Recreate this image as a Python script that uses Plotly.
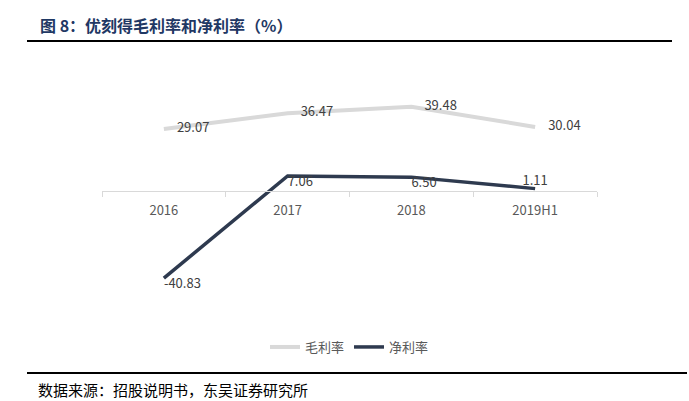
import plotly.graph_objects as go

categories = ["2016", "2017", "2018", "2019H1"]
gross_margin = [29.07, 36.47, 39.48, 30.04]
net_margin = [-40.83, 7.06, 6.50, 1.11]
gross_labels = ["29.07", "36.47", "39.48", "30.04"]
net_labels = ["-40.83", "7.06", "6.50", "1.11"]

W, H = 689, 401
L, R, T, B = 102, 597, 63, 319

def px(x):
    return (x - L) / (R - L)

def py(y):
    return (B - y) / (B - T)

FONT = "Noto Sans CJK SC"

fig = go.Figure()
fig.add_trace(go.Scatter(
    x=categories, y=gross_margin, name="毛利率", mode="lines+text",
    line=dict(color="#d9d9d9", width=4),
    text=gross_labels, texttemplate="\u2003%{text}", textposition="middle right",
    textfont=dict(family=FONT, size=13, color="#404040"),
    cliponaxis=False, hoverinfo="skip",
))
fig.add_trace(go.Scatter(
    x=categories, y=net_margin, name="净利率", mode="lines+text",
    line=dict(color="#2e3a4f", width=3.5),
    text=net_labels,
    textposition=["bottom right", "bottom right", "bottom right", "top center"],
    textfont=dict(family=FONT, size=13, color="#404040"),
    cliponaxis=False, hoverinfo="skip",
))

fig.update_layout(
    width=W, height=H,
    margin=dict(l=L, r=W - R, t=T, b=H - B),
    paper_bgcolor="white", plot_bgcolor="white",
    showlegend=True,
    legend=dict(orientation="h", x=0.5, xanchor="center", y=py(347), yanchor="middle",
                font=dict(family=FONT, size=13, color="#595959"),
                itemwidth=30, tracegroupgap=0),
    font=dict(family=FONT),
)
fig.update_xaxes(
    type="category", anchor="free", position=0.5,
    showline=True, linecolor="#d9d9d9", linewidth=1,
    ticks="outside", ticklen=5, tickcolor="#d9d9d9", tickson="boundaries",
    ticklabelstandoff=7,
    showgrid=False, zeroline=False,
    tickfont=dict(family=FONT, size=13, color="#595959"),
    range=[-0.5, 3.5],
)
fig.update_yaxes(range=[-60, 60], visible=False, showgrid=False, zeroline=False)

# title and rules
fig.add_annotation(
    text="<b>图 8：优刻得毛利率和净利率（%）</b>", xref="paper", yref="paper",
    x=px(38), y=py(25), xanchor="left", yanchor="middle", showarrow=False,
    font=dict(family=FONT, size=16, color="#1f3864"),
)
fig.add_shape(type="line", xref="paper", yref="paper",
              x0=px(27), x1=px(672), y0=py(41), y1=py(41),
              line=dict(color="black", width=2))
fig.add_shape(type="line", xref="paper", yref="paper",
              x0=px(27), x1=px(687), y0=py(373), y1=py(373),
              line=dict(color="black", width=2))
fig.add_annotation(
    text="数据来源：招股说明书，东吴证券研究所", xref="paper", yref="paper",
    x=px(36), y=py(389), xanchor="left", yanchor="middle", showarrow=False,
    font=dict(family=FONT, size=15, color="black"),
)

fig.write_html("out.html", config={"displayModeBar": False},
               post_script="document.body.style.margin='0';")
